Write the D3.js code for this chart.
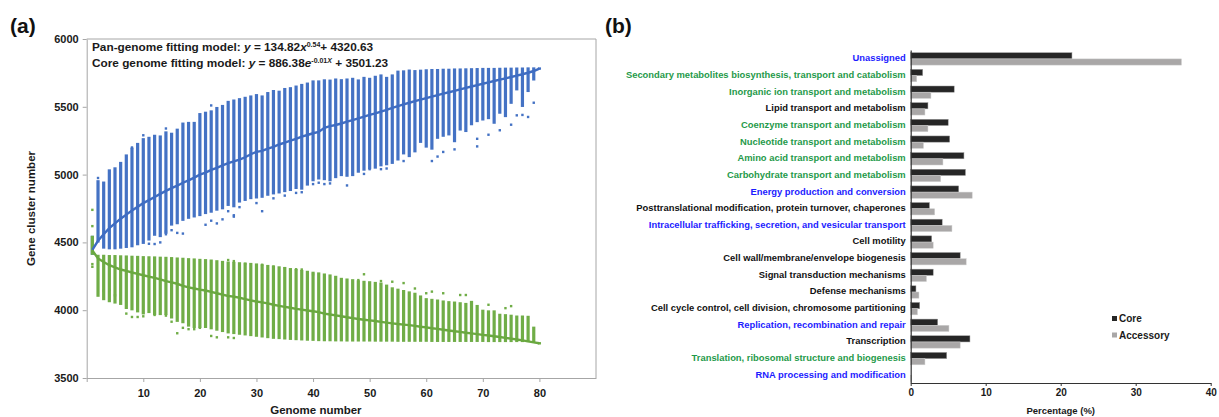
<!DOCTYPE html>
<html>
<head>
<meta charset="utf-8">
<script src="https://cdn.jsdelivr.net/npm/d3@7"></script>
<style>
  body { margin: 0; background: #fff; }
  svg { display: block; font-family: "Liberation Sans", Arial, sans-serif; }
</style>
</head>
<body>
<div id="vis"></div>
<script>
const FRAME_WIDTH = 1219;
const FRAME_HEIGHT = 417;

// ---------- panel (a) data ----------
const GENOMES = d3.range(1, 81);

const PAN_MEAN = [4445, 4512, 4560, 4605, 4640, 4675, 4705, 4735, 4762, 4790,
  4812, 4835, 4858, 4880, 4900, 4918, 4940, 4958, 4978, 5000,
  5015, 5035, 5050, 5068, 5085, 5098, 5110, 5128, 5150, 5168,
  5175, 5192, 5205, 5222, 5236, 5250, 5263, 5280, 5292, 5305,
  5315, 5345, 5358, 5366, 5377, 5390, 5402, 5415, 5427, 5440,
  5452, 5465, 5478, 5492, 5505, 5518, 5530, 5542, 5553, 5564,
  5575, 5586, 5597, 5607, 5617, 5628, 5640, 5650, 5660, 5670,
  5680, 5690, 5700, 5710, 5720, 5730, 5740, 5751, 5764, 5782];

const PAN_MAX = [4540, 4950, 4940, 5030, 5045, 5085, 5140, 5190, 5225, 5260,
  5270, 5285, 5280, 5310, 5300, 5330, 5375, 5380, 5380, 5445,
  5455, 5465, 5490, 5505, 5535, 5545, 5555, 5565, 5575, 5585,
  5575, 5600, 5615, 5610, 5630, 5636, 5648, 5660, 5670, 5686,
  5686, 5694, 5692, 5700, 5695, 5700, 5705, 5693, 5712, 5705,
  5720, 5730, 5712, 5730, 5758, 5760, 5766, 5762, 5765, 5768,
  5770, 5770, 5772, 5772, 5774, 5774, 5775, 5776, 5777, 5778,
  5778, 5778, 5779, 5780, 5780, 5781, 5781, 5782, 5782, 5782];

const PAN_MIN = [4400, 4490, 4445, 4440, 4440, 4445, 4450, 4455, 4470, 4480,
  4505, 4540, 4530, 4555, 4615, 4625, 4650, 4665, 4675, 4685,
  4700, 4710, 4725, 4735, 4760, 4750, 4785, 4797, 4810, 4815,
  4820, 4835, 4845, 4852, 4862, 4870, 4885, 4880, 4910, 4942,
  4955, 4950, 4942, 4965, 4980, 4975, 4980, 5005, 5020, 5030,
  5035, 5052, 5060, 5070, 5095, 5140, 5120, 5155, 5225, 5190,
  5175, 5255, 5270, 5280, 5230, 5316, 5305, 5355, 5378, 5390,
  5400, 5366, 5440, 5415, 5513, 5612, 5490, 5600, 5685, 5782];

const CORE_MEAN = [4440, 4382, 4355, 4332, 4315, 4300, 4290, 4278, 4268, 4258,
  4248, 4238, 4228, 4215, 4205, 4195, 4180, 4168, 4160, 4152,
  4145, 4135, 4125, 4115, 4105, 4100, 4092, 4082, 4072, 4064,
  4058, 4050, 4040, 4032, 4025, 4018, 4010, 4004, 3998, 3992,
  3986, 3975, 3968, 3962, 3955, 3948, 3942, 3935, 3930, 3925,
  3920, 3914, 3908, 3903, 3898, 3894, 3890, 3884, 3878, 3873,
  3867, 3862, 3856, 3850, 3845, 3840, 3834, 3829, 3824, 3818,
  3813, 3808, 3802, 3796, 3790, 3784, 3777, 3770, 3763, 3756];

const CORE_MAX = [4540, 4400, 4400, 4398, 4398, 4396, 4395, 4393, 4392, 4390,
  4389, 4388, 4386, 4385, 4383, 4380, 4378, 4375, 4373, 4370,
  4368, 4365, 4360, 4355, 4350, 4348, 4345, 4342, 4340, 4336,
  4330, 4325, 4320, 4315, 4310, 4302, 4295, 4288, 4282, 4275,
  4270, 4262, 4255, 4245, 4230, 4225, 4220, 4212, 4208, 4205,
  4200, 4195, 4180, 4160, 4150, 4140, 4130, 4120, 4100, 4080,
  4075, 4070, 4063, 4058, 4055, 4050, 4045, 4060, 4030, 3995,
  3990, 3990, 3965, 3962, 3958, 3952, 3952, 3950, 3870, 3756];

const CORE_MIN = [4400, 4090, 4065, 4050, 4040, 4030, 4000, 3990, 3975, 3960,
  3970, 3955, 3955, 3955, 3930, 3905, 3895, 3870, 3860, 3860,
  3860, 3850, 3840, 3830, 3820, 3815, 3810, 3805, 3800, 3795,
  3790, 3785, 3780, 3778, 3775, 3772, 3770, 3768, 3766, 3765,
  3763, 3762, 3762, 3761, 3761, 3760, 3760, 3760, 3760, 3760,
  3759, 3759, 3759, 3759, 3758, 3758, 3758, 3758, 3758, 3758,
  3757, 3757, 3757, 3757, 3757, 3757, 3757, 3757, 3757, 3757,
  3756, 3756, 3756, 3756, 3756, 3756, 3756, 3756, 3756, 3756];

// stray points outside the dense columns: [genome number, clusters]
const PAN_OUTLIERS = [[2, 4975], [8, 5200], [10, 5290], [14, 5340], [22, 5510],
  [11, 4490], [12, 4488], [13, 4500], [14, 4580], [14, 4560], [15, 4590], [16, 4570], [17, 4565],
  [21, 4630], [22, 4660], [23, 4640], [24, 4670], [25, 4730], [26, 4700], [26, 4690], [27, 4760],
  [30, 4790], [31, 4730], [33, 4825], [35, 4845], [37, 4865], [38, 4870], [40, 4930], [41, 4940],
  [42, 4930], [43, 4935], [46, 4920], [49, 5005], [50, 5040], [52, 5040], [53, 5045],
  [56, 5100], [61, 5100], [62, 5133], [63, 5167], [65, 5186], [69, 5208], [69, 5264], [71, 5294],
  [73, 5327], [75, 5368], [76, 5437], [77, 5440], [78, 5425], [79, 5530]];

const CORE_OUTLIERS = [[1, 4740], [1, 4620], [1, 4340], [1, 4320], [3, 4143], [4, 4150], [5, 4110],
  [7, 3975], [8, 3950], [9, 3950], [10, 3955], [12, 3965], [14, 3960], [15, 3915], [16, 3830],
  [17, 3870], [18, 3860], [19, 3860], [20, 3870], [22, 3810], [23, 3800], [25, 3800], [26, 3795],
  [25, 4370], [26, 4362], [28, 4342], [30, 4332], [31, 4335], [33, 4322], [35, 4310], [37, 4302],
  [38, 4300], [40, 4265], [48, 4222], [49, 4265], [52, 4215], [54, 4210], [56, 4200], [58, 4160],
  [60, 4125], [61, 4137], [63, 4125], [66, 4112], [67, 4112], [71, 4040], [74, 4015], [75, 4030]];

const A_Y_TICKS = [3500, 4000, 4500, 5000, 5500, 6000];
const A_X_TICKS = [0, 10, 20, 30, 40, 50, 60, 70, 80];

// ---------- panel (b) data ----------
const COG_LABELS = [
  'Unassigned',
  'Secondary metabolites biosynthesis, transport and catabolism',
  'Inorganic ion transport and metabolism',
  'Lipid transport and metabolism',
  'Coenzyme transport and metabolism',
  'Nucleotide transport and metabolism',
  'Amino acid transport and metabolism',
  'Carbohydrate transport and metabolism',
  'Energy production and conversion',
  'Posttranslational modification, protein turnover, chaperones',
  'Intracellular trafficking, secretion, and vesicular transport',
  'Cell motility',
  'Cell wall/membrane/envelope biogenesis',
  'Signal transduction mechanisms',
  'Defense mechanisms',
  'Cell cycle control, cell division, chromosome partitioning',
  'Replication, recombination and repair',
  'Transcription',
  'Translation, ribosomal structure and biogenesis',
  'RNA processing and modification'
];
// which highlight group each label belongs to in the figure
const COG_GROUP = ['A', 'B', 'B', 'C', 'B', 'B', 'B', 'B', 'A', 'C',
  'A', 'C', 'C', 'C', 'C', 'C', 'A', 'C', 'B', 'A'];
const CORE_PCT = [21.5, 1.6, 5.8, 2.3, 5.0, 5.2, 7.1, 7.3, 6.4, 2.5,
  4.2, 2.8, 6.6, 3.0, 0.7, 1.2, 3.6, 7.9, 4.8, 0.0];
const ACC_PCT = [36.1, 0.8, 2.7, 1.9, 2.3, 1.7, 4.3, 4.0, 8.2, 3.2,
  5.5, 3.0, 7.4, 2.1, 1.1, 0.9, 5.1, 6.6, 1.9, 0.1];
const SERIES_NAMES = ['Core', 'Accessory'];
const B_X_TICKS = [0, 10, 20, 30, 40];

const BLUE = '#4472c4';
const GREEN = '#70ad47';
const AXIS_GREY = '#a6a6a6';
const TEXT = '#1a1a1a';

const FRAME = d3.select('#vis')
  .append('svg')
    .attr('width', FRAME_WIDTH)
    .attr('height', FRAME_HEIGHT);

// ==================== panel (a) ====================
const X_A = d3.scaleLinear().domain([0, 90]).range([86.7, 596]);
const Y_A = d3.scaleLinear().domain([3500, 6000]).range([378, 39]);

const BAR_W = 3.2;
const DOT = 2.4;

const panRows = GENOMES.map((n, i) => ({n: n, lo: PAN_MIN[i], hi: PAN_MAX[i]}));
const coreRows = GENOMES.map((n, i) => ({n: n, lo: CORE_MIN[i], hi: CORE_MAX[i]}));

function drawColumns(rows, colour) {
  FRAME.append('g')
    .selectAll('rect')
    .data(rows)
    .enter()
    .append('rect')
      .attr('x', d => X_A(d.n) - BAR_W / 2)
      .attr('width', BAR_W)
      .attr('y', d => Y_A(d.hi) - DOT / 2)
      .attr('height', d => Math.max(DOT, Y_A(d.lo) - Y_A(d.hi)))
      .attr('fill', colour);
}

function drawDots(points, colour) {
  FRAME.append('g')
    .selectAll('rect')
    .data(points)
    .enter()
    .append('rect')
      .attr('x', d => X_A(d[0]) - DOT / 2)
      .attr('y', d => Y_A(d[1]) - DOT / 2)
      .attr('width', DOT)
      .attr('height', DOT)
      .attr('fill', colour);
}

drawColumns(panRows, BLUE);
drawDots(PAN_OUTLIERS, BLUE);
drawColumns(coreRows, GREEN);
drawDots(CORE_OUTLIERS, GREEN);

// mean curves
const meanLine = d3.line()
  .x(d => X_A(d[0]))
  .y(d => Y_A(d[1]));

FRAME.append('path')
  .datum(GENOMES.map((n, i) => [n, PAN_MEAN[i]]))
  .attr('d', meanLine)
  .attr('fill', 'none')
  .attr('stroke', '#3e6cc2')
  .attr('stroke-width', 2.4);

FRAME.append('path')
  .datum(GENOMES.map((n, i) => [n, CORE_MEAN[i]]))
  .attr('d', meanLine)
  .attr('fill', 'none')
  .attr('stroke', '#6aa840')
  .attr('stroke-width', 2.4);

// frame top / right
FRAME.append('path')
  .attr('d', 'M' + X_A(0) + ',' + Y_A(6000) + 'H' + X_A(90) + 'V' + Y_A(3500))
  .attr('fill', 'none')
  .attr('stroke', AXIS_GREY)
  .attr('stroke-width', 1);

// y axis
const yAxisA = FRAME.append('g')
  .attr('transform', 'translate(' + X_A(0) + ',0)')
  .call(d3.axisLeft(Y_A).tickValues(A_Y_TICKS).tickSize(4).tickSizeOuter(0).tickPadding(4)
    .tickFormat(d3.format('d')));
yAxisA.selectAll('text')
  .attr('font-size', '11px')
  .attr('font-weight', 'bold')
  .attr('fill', TEXT);

// x axis
const xAxisA = FRAME.append('g')
  .attr('transform', 'translate(0,' + Y_A(3500) + ')')
  .call(d3.axisBottom(X_A).tickValues(A_X_TICKS).tickSize(4).tickSizeOuter(0).tickPadding(7)
    .tickFormat(d => d === 0 ? '' : d));
xAxisA.selectAll('text')
  .attr('font-size', '11px')
  .attr('font-weight', 'bold')
  .attr('fill', TEXT);

[yAxisA, xAxisA].forEach(ax => {
  ax.select('.domain').attr('stroke', AXIS_GREY);
  ax.selectAll('.tick line').attr('stroke', AXIS_GREY);
});

// axis titles
FRAME.append('text')
  .attr('transform', 'translate(35,' + (Y_A(4750)) + ') rotate(-90)')
  .attr('text-anchor', 'middle')
  .attr('font-size', '11.5px')
  .attr('font-weight', 'bold')
  .attr('fill', TEXT)
  .text('Gene cluster number');

FRAME.append('text')
  .attr('x', X_A(40.5))
  .attr('y', 414)
  .attr('text-anchor', 'middle')
  .attr('font-size', '11.5px')
  .attr('font-weight', 'bold')
  .attr('fill', TEXT)
  .text('Genome number');

// fitting equations
const eq1 = FRAME.append('text')
  .attr('x', 92)
  .attr('y', 50.5)
  .attr('font-size', '11.8px')
  .attr('font-weight', 'bold')
  .attr('fill', TEXT);
eq1.append('tspan').text('Pan-genome fitting model: ');
eq1.append('tspan').attr('font-style', 'italic').text('y');
eq1.append('tspan').text(' = 134.82');
eq1.append('tspan').attr('font-style', 'italic').text('x');
eq1.append('tspan').attr('font-size', '7px').attr('dy', -4).text('0.54');
eq1.append('tspan').attr('dy', 4).text('+ 4320.63');

const eq2 = FRAME.append('text')
  .attr('x', 92)
  .attr('y', 66.5)
  .attr('font-size', '11.8px')
  .attr('font-weight', 'bold')
  .attr('fill', TEXT);
eq2.append('tspan').text('Core genome fitting model: ');
eq2.append('tspan').attr('font-style', 'italic').text('y');
eq2.append('tspan').text(' = 886.38');
eq2.append('tspan').attr('font-style', 'italic').text('e');
eq2.append('tspan').attr('font-size', '7px').attr('dy', -4).text('-0.01');
eq2.append('tspan').attr('font-size', '7px').attr('font-style', 'italic').text('X');
eq2.append('tspan').attr('dy', 4).text(' + 3501.23');

// panel letters
FRAME.append('text')
  .attr('x', 10).attr('y', 33)
  .attr('font-size', '21px').attr('font-weight', 'bold').attr('fill', '#111')
  .text('(a)');
FRAME.append('text')
  .attr('x', 605).attr('y', 33)
  .attr('font-size', '21px').attr('font-weight', 'bold').attr('fill', '#111')
  .text('(b)');

// ==================== panel (b) ====================
const X_B = d3.scaleLinear().domain([0, 40]).range([910.7, 1210.7]);
const Y_B = d3.scaleBand().domain(COG_LABELS).range([50, 383]);
const LABEL_COLOUR = d3.scaleOrdinal().domain(['A', 'B', 'C']).range(['#1c1cff', '#1f9a4a', '#111111']);
const SERIES_COLOUR = d3.scaleOrdinal().domain(SERIES_NAMES).range(['#262626', '#a9a7a7']);

const BAR_H = 6.2;
const cogRows = COG_LABELS.map((c, i) => ({cog: c, core: CORE_PCT[i], acc: ACC_PCT[i]}));

FRAME.append('g')
  .selectAll('rect')
  .data(cogRows)
  .enter()
  .append('rect')
    .attr('x', X_B(0))
    .attr('y', d => Y_B(d.cog) + 2.7)
    .attr('width', d => X_B(d.core) - X_B(0))
    .attr('height', BAR_H)
    .attr('fill', SERIES_COLOUR('Core'))
    .attr('stroke', '#9a9a9a')
    .attr('stroke-width', 0.5);

FRAME.append('g')
  .selectAll('rect')
  .data(cogRows)
  .enter()
  .append('rect')
    .attr('x', X_B(0))
    .attr('y', d => Y_B(d.cog) + 2.7 + BAR_H)
    .attr('width', d => X_B(d.acc) - X_B(0))
    .attr('height', BAR_H)
    .attr('fill', SERIES_COLOUR('Accessory'))
    .attr('stroke', '#d0d0d0')
    .attr('stroke-width', 0.5);

// category axis
const yAxisB = FRAME.append('g')
  .attr('transform', 'translate(' + X_B(0) + ',0)')
  .call(d3.axisLeft(Y_B).tickSize(0).tickPadding(5));
yAxisB.select('.domain').attr('stroke', '#333').attr('stroke-width', 1.2);
yAxisB.selectAll('text')
  .attr('font-size', '9.4px')
  .attr('font-weight', 'bold')
  .attr('fill', (d, i) => LABEL_COLOUR(COG_GROUP[i]));

// value axis
const xAxisB = FRAME.append('g')
  .attr('transform', 'translate(0,383)')
  .call(d3.axisBottom(X_B).tickValues(B_X_TICKS).tickSize(3).tickSizeOuter(0).tickPadding(3));
xAxisB.select('.domain').attr('stroke', '#333').attr('stroke-width', 1.2);
xAxisB.selectAll('.tick line').attr('stroke', '#333');
xAxisB.selectAll('text')
  .attr('font-size', '10px')
  .attr('font-weight', 'bold')
  .attr('fill', TEXT);

FRAME.append('text')
  .attr('x', X_B(20))
  .attr('y', 414)
  .attr('text-anchor', 'middle')
  .attr('font-size', '9.5px')
  .attr('font-weight', 'bold')
  .attr('fill', TEXT)
  .text('Percentage (%)');

// legend
const legend = FRAME.append('g')
  .attr('transform', 'translate(1112,316)');
SERIES_NAMES.forEach((s, i) => {
  legend.append('rect')
    .attr('x', 0).attr('y', i * 16.5)
    .attr('width', 5).attr('height', 5)
    .attr('fill', SERIES_COLOUR(s));
  legend.append('text')
    .attr('x', 7).attr('y', i * 16.5 + 6)
    .attr('font-size', '10px')
    .attr('font-weight', 'bold')
    .attr('fill', TEXT)
    .text(s);
});
</script>
</body>
</html>
